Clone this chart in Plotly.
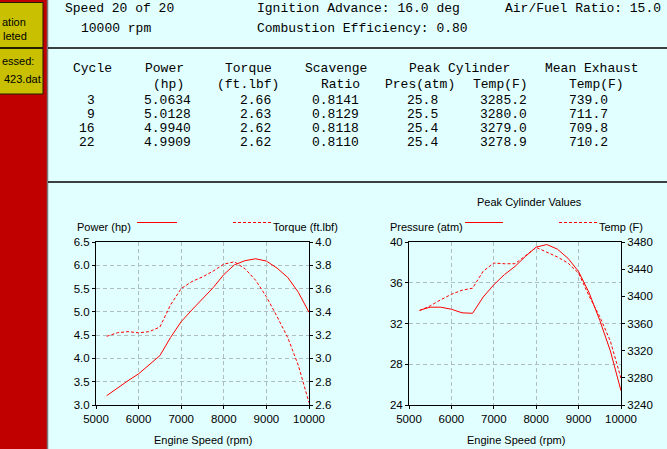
import plotly.graph_objects as go

W, H = 667, 449

# ---------------- data ----------------
rpm = [5250, 5500, 5750, 6000, 6250, 6500, 6750, 7000, 7250, 7500,
       7750, 8000, 8250, 8500, 8750, 9000, 9250, 9500, 9750, 10000]
power_hp = [3.20, 3.37, 3.52, 3.67, 3.86, 4.06, 4.45, 4.79, 5.04, 5.27,
            5.52, 5.80, 6.01, 6.10, 6.14, 6.09, 5.94, 5.74, 5.42, 4.99]
torque_ftlbf = [3.19, 3.22, 3.23, 3.22, 3.23, 3.27, 3.46, 3.60, 3.66, 3.70,
                3.75, 3.81, 3.83, 3.77, 3.67, 3.53, 3.36, 3.18, 2.94, 2.62]
pressure_atm = [33.3, 33.6, 33.6, 33.4, 33.05, 33.0, 34.6, 35.8, 36.8, 37.6,
                38.6, 39.5, 39.75, 39.3, 38.4, 37.1, 35.0, 32.3, 29.3, 25.4]
temp_F = [3379, 3386, 3395, 3403, 3409, 3412, 3437, 3449, 3448, 3448,
          3460, 3472, 3465, 3458, 3449, 3434, 3400, 3370, 3334, 3279]

header_lines = [
    ("Speed 20 of 20", 64, 9),
    ("10000 rpm", 80, 29),
    ("Ignition Advance: 16.0 deg", 256, 9),
    ("Combustion Efficiency: 0.80", 256, 29),
    ("Air/Fuel Ratio: 15.0", 504, 9),
]
col_head1 = [("Cycle", 72), ("Power", 144), ("Torque", 224), ("Scavenge", 304),
             ("Peak Cylinder", 408), ("Mean Exhaust", 544)]
col_head2 = [("(hp)", 152), ("(ft.lbf)", 216), ("Ratio", 320), ("Pres(atm)", 384),
             ("Temp(F)", 472), ("Temp(F)", 568)]
cycles = ["3", "9", "16", "22"]
cyc_power = ["5.0634", "5.0128", "4.9940", "4.9909"]
cyc_torque = ["2.66", "2.63", "2.62", "2.62"]
cyc_scav = ["0.8141", "0.8129", "0.8118", "0.8110"]
cyc_pres = ["25.8", "25.5", "25.4", "25.4"]
cyc_temp = ["3285.2", "3280.0", "3279.0", "3278.9"]
cyc_exh = ["739.0", "711.7", "709.8", "710.2"]

# ---------------- helpers ----------------
def fx(px):
    return px / W

def fy(py):
    return 1 - py / H

BG = "#E1FFFF"
RED = "#FF0000"
GRID = "#AEBEBE"
GDASH = "4px,3px"
MONO = "Liberation Mono"
SANS = "Liberation Sans"

fig = go.Figure()

fig.add_trace(go.Scatter(x=rpm, y=power_hp, mode="lines", xaxis="x", yaxis="y",
                         line=dict(color=RED, width=1), showlegend=False))
fig.add_trace(go.Scatter(x=rpm, y=torque_ftlbf, mode="lines", xaxis="x", yaxis="y2",
                         line=dict(color=RED, width=1, dash="3px,2px"), showlegend=False))
fig.add_trace(go.Scatter(x=rpm, y=pressure_atm, mode="lines", xaxis="x2", yaxis="y3",
                         line=dict(color=RED, width=1), showlegend=False))
fig.add_trace(go.Scatter(x=rpm, y=temp_F, mode="lines", xaxis="x2", yaxis="y4",
                         line=dict(color=RED, width=1, dash="3px,2px"), showlegend=False))

ydom = [fy(405), fy(242)]
tickfont = dict(family=SANS, size=11.5, color="black")

def xax(dom, anchor):
    return dict(domain=dom, anchor=anchor, range=[5000, 10000], dtick=1000,
                tickformat="d",
                showline=True, mirror=True, linecolor="black", linewidth=1,
                ticks="outside", ticklen=3, tickcolor="black",
                showgrid=True, gridcolor=GRID, griddash=GDASH, gridwidth=1,
                zeroline=False, tickfont=tickfont, fixedrange=True, automargin=False)

def yax_left(anchor, rng, dt, fmt):
    return dict(domain=ydom, anchor=anchor, range=rng, dtick=dt, tickformat=fmt,
                showline=True, linecolor="black", linewidth=1,
                ticks="outside", ticklen=3, tickcolor="black",
                showgrid=True, gridcolor=GRID, griddash=GDASH, gridwidth=1,
                zeroline=False, tickfont=tickfont, fixedrange=True, automargin=False)

def yax_right(anchor, over, rng, dt, fmt):
    return dict(overlaying=over, side="right", anchor=anchor, range=rng, dtick=dt,
                tickformat=fmt, showline=True, linecolor="black", linewidth=1,
                ticks="outside", ticklen=3, tickcolor="black",
                showgrid=False, zeroline=False, tickfont=tickfont, fixedrange=True,
                automargin=False)

shapes = []
# left red panel and yellow status boxes
shapes.append(dict(type="rect", xref="paper", yref="paper", x0=0, x1=fx(47), y0=0, y1=1,
                   fillcolor="#C00000", line=dict(width=0), layer="below"))
shapes.append(dict(type="line", xref="paper", yref="paper", x0=fx(47.5), x1=fx(47.5), y0=0, y1=1,
                   line=dict(color="#7A7A7A", width=1.5)))
shapes.append(dict(type="rect", xref="paper", yref="paper", x0=fx(-2), x1=fx(43), y0=fy(47.5), y1=fy(2.5),
                   fillcolor="#C8C000", line=dict(color="#202000", width=1)))
shapes.append(dict(type="rect", xref="paper", yref="paper", x0=fx(-2), x1=fx(43), y0=fy(94), y1=fy(48.5),
                   fillcolor="#C8C000", line=dict(color="#202000", width=1)))
# separators
for py in (48, 182):
    shapes.append(dict(type="line", xref="paper", yref="paper", x0=fx(48), x1=1, y0=fy(py), y1=fy(py),
                       line=dict(color="black", width=1.5)))
# chart legend samples
for (x0, x1, dash) in [(137, 177, "solid"), (233, 272, "3px,2px"),
                       (465, 503, "solid"), (559, 598, "3px,2px")]:
    shapes.append(dict(type="line", xref="paper", yref="paper", x0=fx(x0), x1=fx(x1),
                       y0=fy(222.5), y1=fy(222.5), line=dict(color=RED, width=1, dash=dash)))

ann = []

def txt(s, px, py, font, size, anchor="left", color="black", h=None):
    a = dict(text=s, x=fx(px), y=fy(py), xref="paper", yref="paper",
             xanchor=anchor, yanchor="middle", showarrow=False, borderpad=0,
             font=dict(family=font, size=size, color=color))
    if h is not None:
        a["height"] = h
    ann.append(a)

# status box texts
txt("ation", 1, 21.5, SANS, 11)
txt("leted", 2, 36, SANS, 11)
txt("essed:", 1, 61, SANS, 11)
txt("423.dat", 3, 79, SANS, 11)

MS = 13
for s, px, py in header_lines:
    txt(s, px, py, MONO, MS)
for s, px in col_head1:
    txt(s, px, 69, MONO, MS, h=13)
for s, px in col_head2:
    txt(s, px, 85, MONO, MS, h=13)
row_y = [100.6, 114.6, 128.6, 142.6]
for i, y in enumerate(row_y):
    txt(cycles[i], 96, y, MONO, MS, anchor="right", h=13)
    txt(cyc_power[i], 143, y, MONO, MS, h=13)
    txt(cyc_torque[i], 239, y, MONO, MS, h=13)
    txt(cyc_scav[i], 311, y, MONO, MS, h=13)
    txt(cyc_pres[i], 406, y, MONO, MS, h=13)
    txt(cyc_temp[i], 479, y, MONO, MS, h=13)
    txt(cyc_exh[i], 568, y, MONO, MS, h=13)

# chart labels
txt("Power (hp)", 76, 227, SANS, 11)
txt("Torque (ft.lbf)", 339, 227, SANS, 11, anchor="right")
txt("Pressure (atm)", 389, 227, SANS, 11)
txt("Temp (F)", 644, 227, SANS, 11, anchor="right")
txt("Peak Cylinder Values", 529, 202, SANS, 11, anchor="center")
txt("Engine Speed (rpm)", 203, 440, SANS, 11, anchor="center")
txt("Engine Speed (rpm)", 516, 440, SANS, 11, anchor="center")

fig.update_layout(
    width=W, height=H, margin=dict(l=0, r=0, t=0, b=0, pad=0, autoexpand=False),
    paper_bgcolor=BG, plot_bgcolor=BG, showlegend=False,
    xaxis=xax([fx(96), fx(309)], "y"),
    yaxis=yax_left("x", [3.0, 6.5], 0.5, ".1f"),
    yaxis2=yax_right("x", "y", [2.6, 4.0], 0.2, ".1f"),
    xaxis2=xax([fx(409), fx(621)], "y3"),
    yaxis3=yax_left("x2", [24, 40], 4, "d"),
    yaxis4=yax_right("x2", "y3", [3240, 3480], 40, "d"),
    shapes=shapes, annotations=ann,
)

fig.write_html("out.html", config={"displayModeBar": False},
               post_script="document.body.style.margin='0';document.body.style.overflow='hidden';")
